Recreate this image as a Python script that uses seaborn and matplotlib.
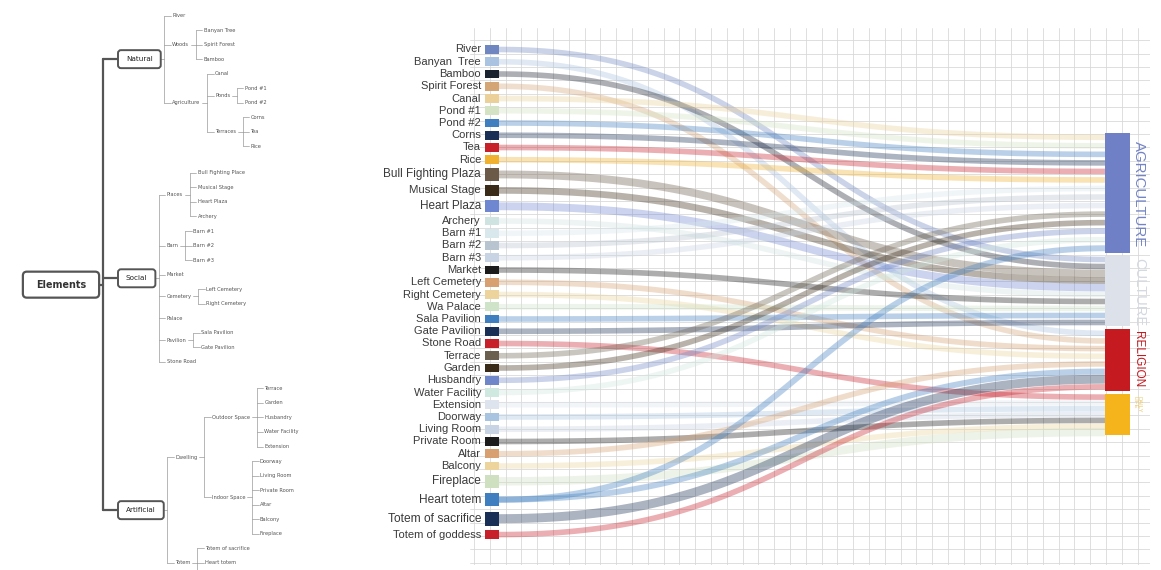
import numpy as np
import matplotlib
matplotlib.use('Agg')
import matplotlib.pyplot as plt
import seaborn as sns
from matplotlib.patches import FancyBboxPatch, Rectangle
from matplotlib.ticker import MultipleLocator

sns.set_theme(style='white')
plt.rcParams['font.family'] = ['DejaVu Sans']

# ---------------- tree (left) ----------------
tree_labels = ['Elements',
               'Natural', 'River', 'Woods', 'Banyan Tree', 'Spirit Forest', 'Bamboo',
               'Agriculture', 'Canal', 'Ponds', 'Pond #1', 'Pond #2', 'Terraces', 'Corns', 'Tea', 'Rice',
               'Social', 'Places', 'Bull Fighting Place', 'Musical Stage', 'Heart Plaza', 'Archery',
               'Barn', 'Barn #1', 'Barn #2', 'Barn #3', 'Market', 'Cemetery', 'Left Cemetery',
               'Right Cemetery', 'Palace', 'Pavilion', 'Sala Pavilion', 'Gate Pavilion', 'Stone Road',
               'Artificial', 'Dwelling', 'Outdoor Space', 'Terrace', 'Garden', 'Husbandry',
               'Water Facility', 'Extension', 'Indoor Space', 'Doorway', 'Living Room', 'Private Room',
               'Altar', 'Balcony', 'Fireplace', 'Totem', 'Totem of sacrifice', 'Heart totem',
               'Totem of goddess']
tree_parents = [None,
                'Elements', 'Natural', 'Natural', 'Woods', 'Woods', 'Woods',
                'Natural', 'Agriculture', 'Agriculture', 'Ponds', 'Ponds', 'Agriculture', 'Terraces',
                'Terraces', 'Terraces',
                'Elements', 'Social', 'Places', 'Places', 'Places', 'Places',
                'Social', 'Barn', 'Barn', 'Barn', 'Social', 'Social', 'Cemetery',
                'Cemetery', 'Social', 'Social', 'Pavilion', 'Pavilion', 'Social',
                'Elements', 'Artificial', 'Dwelling', 'Outdoor Space', 'Outdoor Space', 'Outdoor Space',
                'Outdoor Space', 'Outdoor Space', 'Dwelling', 'Indoor Space', 'Indoor Space',
                'Indoor Space', 'Indoor Space', 'Indoor Space', 'Indoor Space', 'Artificial',
                'Totem', 'Totem', 'Totem']

# ---------------- sankey (right) ----------------
sources = ['River', 'Banyan  Tree', 'Bamboo', 'Spirit Forest', 'Canal', 'Pond #1', 'Pond #2',
           'Corns', 'Tea', 'Rice', 'Bull Fighting Plaza', 'Musical Stage', 'Heart Plaza',
           'Archery', 'Barn #1', 'Barn #2', 'Barn #3', 'Market', 'Left Cemetery',
           'Right Cemetery', 'Wa Palace', 'Sala Pavilion', 'Gate Pavilion', 'Stone Road',
           'Terrace', 'Garden', 'Husbandry', 'Water Facility', 'Extension', 'Doorway',
           'Living Room', 'Private Room', 'Altar', 'Balcony', 'Fireplace', 'Heart totem',
           'Totem of sacrifice', 'Totem of goddess']
source_colors = ['#6f86c0', '#a9c3e0', '#1c2330', '#d4a676', '#ebd09a', '#d3e3c4', '#3f7fc0',
                 '#1a2f55', '#c8202a', '#f0b030', '#6b5a48', '#3a2a18', '#6f86d0',
                 '#cfe3e0', '#d8e8ec', '#b8c4d0', '#c8d4e4', '#1c1c1c', '#d8a070',
                 '#ecd49c', '#cfe3c8', '#3f7fc0', '#1a2f55', '#c8202a',
                 '#6b6050', '#3a2a18', '#6f86c8', '#cfe8e0', '#dde4ee', '#a8c4e0',
                 '#c8d4e4', '#1c1c1c', '#d8a070', '#ecd49c', '#cfe0c0', '#3f7fc0',
                 '#1a2f55', '#c8202a']
source_weights = [1, 1, 1, 1, 1, 1, 1, 1, 1, 1, 1.4, 1.2, 1.4,
                  1, 1, 1, 1, 1, 1, 1, 1, 1, 1, 1,
                  1, 1, 1, 1, 1, 1, 1, 1, 1, 1, 1.5, 1.5, 1.6, 1]

targets = ['AGRICULTURE', 'CULTURE', 'RELIGION', 'DAILY\nLIFE']
target_colors = ['#6f80c6', '#dde1ea', '#c41a20', '#f5b31c']
target_text_colors = ['#7484c4', '#d4d8e0', '#c41a20', '#ecc766']
target_text_sizes = [10.8, 10.5, 8.5, 4.2]
target_shares = [41, 24, 21, 14]

link_source = ['River', 'Banyan  Tree', 'Bamboo', 'Spirit Forest', 'Canal', 'Pond #1', 'Pond #2',
               'Corns', 'Tea', 'Rice', 'Bull Fighting Plaza', 'Musical Stage', 'Heart Plaza',
               'Archery', 'Barn #1', 'Barn #2', 'Barn #3', 'Market', 'Left Cemetery',
               'Right Cemetery', 'Wa Palace', 'Sala Pavilion', 'Gate Pavilion', 'Stone Road',
               'Terrace', 'Garden', 'Husbandry', 'Water Facility', 'Extension', 'Doorway',
               'Living Room', 'Private Room', 'Altar', 'Balcony', 'Fireplace', 'Heart totem',
               'Heart totem', 'Totem of sacrifice', 'Totem of goddess']
link_target = ['CULTURE', 'RELIGION', 'CULTURE', 'RELIGION', 'AGRICULTURE', 'AGRICULTURE',
               'AGRICULTURE', 'AGRICULTURE', 'AGRICULTURE', 'AGRICULTURE', 'CULTURE', 'CULTURE',
               'CULTURE', 'CULTURE', 'AGRICULTURE', 'AGRICULTURE', 'AGRICULTURE', 'CULTURE',
               'RELIGION', 'RELIGION', 'CULTURE', 'CULTURE', 'CULTURE', 'DAILY\nLIFE',
               'AGRICULTURE', 'AGRICULTURE', 'AGRICULTURE', 'AGRICULTURE', 'DAILY\nLIFE',
               'DAILY\nLIFE', 'DAILY\nLIFE', 'DAILY\nLIFE', 'RELIGION', 'DAILY\nLIFE',
               'DAILY\nLIFE', 'AGRICULTURE', 'RELIGION', 'RELIGION', 'RELIGION']

W, H = 1161, 570
fig = plt.figure(figsize=(W / 100, H / 100), dpi=100)
fig.patch.set_facecolor('white')

# ================= tree =================
axt = fig.add_axes([0, 0, 360 / W, 1])
axt.set_xlim(0, 360)
axt.set_ylim(H, 0)
axt.axis('off')

children = {}
for lab, par in zip(tree_labels, tree_parents):
    children.setdefault(par, []).append(lab)
parent_of = dict(zip(tree_labels, tree_parents))

def depth(n):
    d = 0
    while parent_of[n] is not None:
        n = parent_of[n]
        d += 1
    return d

# leaf rows
ty = {}
cursor = 15.5
first_group = True
for lab in tree_labels:
    if depth(lab) == 1:
        if not first_group:
            cursor += 11.8
        first_group = False
    if lab not in children:
        ty[lab] = cursor
        cursor += 14.55
for lab in reversed(tree_labels):
    if lab in children:
        kids = children[lab]
        ty[lab] = (ty[kids[0]] + ty[kids[-1]]) / 2

renderer = fig.canvas.get_renderer()
inv = axt.transData.inverted()
leaf_grey = '#9a9a9a'
br_gap, ch_gap = 6.5, 8.0
tx_right = {}
tx_left = {}

for lab in tree_labels:
    d = depth(lab)
    if d == 0:
        t = axt.text(61, ty[lab], lab, ha='center', va='center', fontsize=6.9,
                     fontweight='bold', color='#333333')
        ext = t.get_window_extent(renderer).transformed(inv)
        px, py = 13, 8
        axt.add_patch(FancyBboxPatch((ext.x0 - px, ty[lab] - 6 - py + 1), ext.width + 2 * px, 12 + 2 * py - 2,
                                     boxstyle='round,pad=0,rounding_size=4', fc='white',
                                     ec='#555555', lw=1.6, zorder=3))
        t.set_zorder(4)
        tx_right[lab] = ext.x0 + ext.width + px
    elif d == 1:
        t = axt.text(126, ty[lab], lab, ha='left', va='center', fontsize=5.2, color='#222222')
        ext = t.get_window_extent(renderer).transformed(inv)
        px, py = 8, 5.5
        axt.add_patch(FancyBboxPatch((ext.x0 - px, ty[lab] - 3.5 - py), ext.width + 2 * px, 7 + 2 * py,
                                     boxstyle='round,pad=0,rounding_size=3', fc='white',
                                     ec='#555555', lw=1.4, zorder=3))
        t.set_zorder(4)
        tx_left[lab] = ext.x0 - px
        tx_right[lab] = ext.x0 + ext.width + px - 3
    else:
        par = parent_of[lab]
        bx = tx_right[par] + br_gap
        cx = bx + ch_gap
        if ty[lab] > H - 2:
            # row falls below the visible canvas (cropped in the reference)
            tx_right[lab] = cx
            continue
        t = axt.text(cx, ty[lab], lab, ha='left', va='center', fontsize=3.7, color='#555555')
        ext = t.get_window_extent(renderer).transformed(inv)
        tx_right[lab] = ext.x0 + ext.width

# connectors
trunk_x = tx_right['Elements'] + 3.5
groups = children['Elements']
axt.plot([trunk_x, trunk_x], [ty[groups[0]], ty[groups[-1]]], color='#555555', lw=1.6,
         solid_capstyle='round')
axt.plot([tx_right['Elements'], trunk_x], [ty['Elements']] * 2, color='#555555', lw=1.6)
for g in groups:
    axt.plot([trunk_x, tx_left[g]], [ty[g]] * 2, color='#555555', lw=1.6, solid_capstyle='round')

for lab in tree_labels:
    if depth(lab) >= 1 and lab in children:
        kids = children[lab]
        bx = tx_right[lab] + br_gap
        axt.plot([tx_right[lab] + 1.5, bx], [ty[lab]] * 2, color=leaf_grey, lw=0.5)
        axt.plot([bx, bx], [ty[kids[0]], ty[kids[-1]]], color=leaf_grey, lw=0.5)
        for k in kids:
            axt.plot([bx, bx + ch_gap - 1.5], [ty[k]] * 2, color=leaf_grey, lw=0.5)

# ================= sankey =================
gx0, gx1, gy0, gy1 = 470, 1150, 28, 565
axs = fig.add_axes([gx0 / W, (H - gy1) / H, (gx1 - gx0) / W, (gy1 - gy0) / H])
axs.set_xlim(gx0, gx1)
axs.set_ylim(gy1, gy0)
axs.xaxis.set_major_locator(MultipleLocator(15.8))
axs.yaxis.set_major_locator(MultipleLocator(13.4))
axs.grid(True, color='#d9d9d9', lw=0.6)
axs.tick_params(length=0, labelbottom=False, labelleft=False)
for s in axs.spines.values():
    s.set_visible(False)
axs.set_axisbelow(True)

# source layout
slot = 12.25
sy = [49.5]
for i in range(1, len(sources)):
    sy.append(sy[-1] + slot * (source_weights[i - 1] + source_weights[i]) / 2)
src_y = dict(zip(sources, sy))
src_w = dict(zip(sources, source_weights))
src_c = dict(zip(sources, source_colors))
n_out = {s: link_source.count(s) for s in sources}

# target layout
bar_top, bar_bot, gap = 133, 435, 3.5
avail = bar_bot - bar_top - gap * (len(targets) - 1)
shares = np.array(target_shares, dtype=float)
heights = avail * shares / shares.sum()
tops = bar_top + np.concatenate([[0], np.cumsum(heights[:-1] + gap)])
bar_x, bar_w = 1105, 25
box_x, box_w = 485, 14

# landing positions, ordered by source position
land = {}
for j, tg in enumerate(targets):
    idx = [k for k in range(len(link_target)) if link_target[k] == tg]
    idx.sort(key=lambda k: src_y[link_source[k]])
    n = len(idx)
    for r, k in enumerate(idx):
        land[k] = tops[j] + (r + 0.5) * heights[j] / n

tt = np.linspace(0, 1, 120)
x0, x1 = box_x + box_w, bar_x
dx = x1 - x0
for k, (s, tg) in enumerate(zip(link_source, link_target)):
    y0, y1 = src_y[s], land[k]
    p = [(x0, y0), (x0 + 0.5 * dx, y0), (x1 - 0.5 * dx, y1), (x1, y1)]
    bx_ = ((1 - tt) ** 3 * p[0][0] + 3 * (1 - tt) ** 2 * tt * p[1][0]
           + 3 * (1 - tt) * tt ** 2 * p[2][0] + tt ** 3 * p[3][0])
    by_ = ((1 - tt) ** 3 * p[0][1] + 3 * (1 - tt) ** 2 * tt * p[1][1]
           + 3 * (1 - tt) * tt ** 2 * p[2][1] + tt ** 3 * p[3][1])
    lw_px = 5.6 * src_w[s] / np.sqrt(n_out[s])
    axs.plot(bx_, by_, color=src_c[s], lw=lw_px * 0.72, alpha=0.36,
             solid_capstyle='butt', zorder=2)

# source boxes and labels
for s, y, w, c in zip(sources, sy, source_weights, source_colors):
    h = 8.8 * w
    axs.add_patch(Rectangle((box_x, y - h / 2), box_w, h, fc=c, ec='none', zorder=3,
                            clip_on=False))
    axs.text(481, y, s, ha='right', va='center', fontsize=8 + (w - 1) * 1.1,
             color='#3a3a3a', family=['Liberation Sans', 'DejaVu Sans'], clip_on=False, zorder=4)

# target bars and labels
label_offsets = [8, 2, 2, 2]
for j, tg in enumerate(targets):
    axs.add_patch(Rectangle((bar_x, tops[j]), bar_w, heights[j], fc=target_colors[j],
                            ec='none', zorder=3))
    axs.text(bar_x + bar_w + 2, tops[j] + label_offsets[j], tg, rotation=-90, ha='left', va='top',
             fontsize=target_text_sizes[j], color=target_text_colors[j],
             family=['Liberation Sans', 'DejaVu Sans'], linespacing=1.0, zorder=4)

fig.savefig('out.png', dpi=100, facecolor='white')
